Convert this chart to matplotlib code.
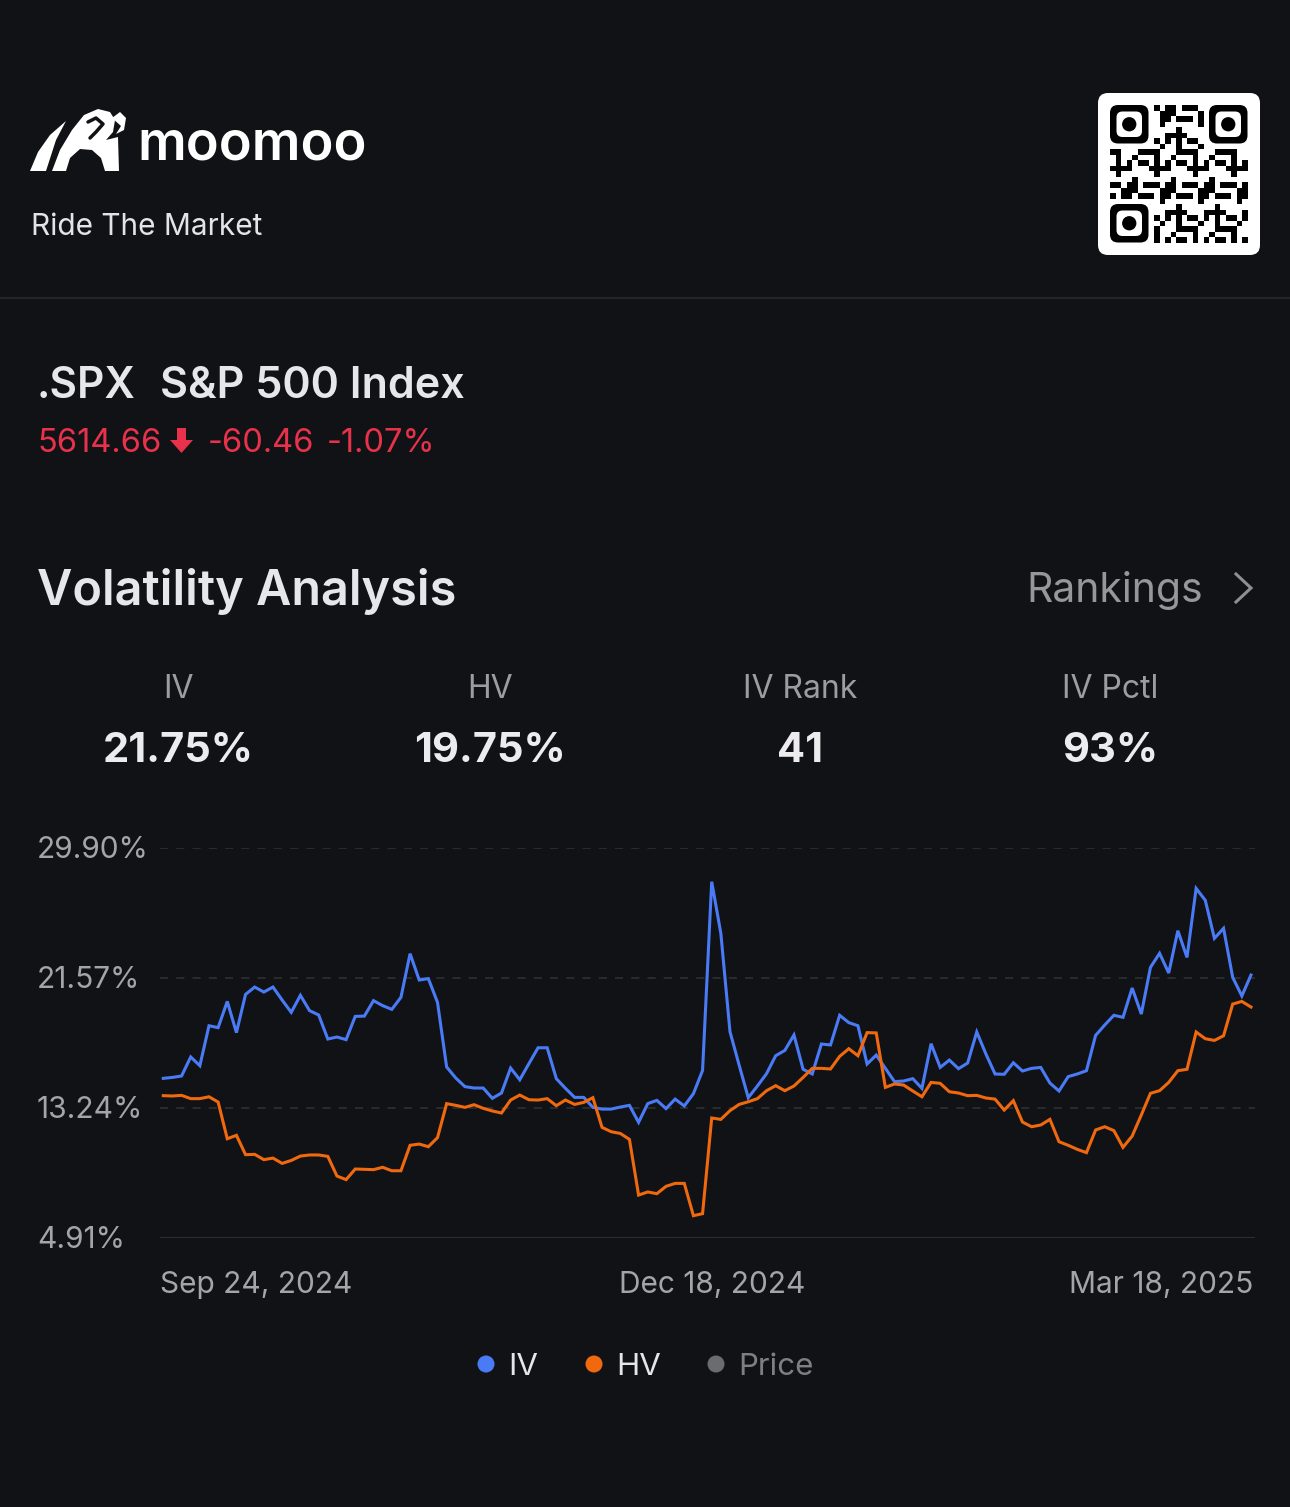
import matplotlib
matplotlib.use("Agg")
import matplotlib.pyplot as plt
from matplotlib.patches import FancyBboxPatch, Polygon, Circle, Rectangle
from matplotlib import transforms


BG = "#111215"
IV_COLOR = "#4a7bf7"
HV_COLOR = "#f0690f"
GRID = "#2c2d31"
LABEL_GRAY = "#a4a5a9"

plt.rcParams["font.family"] = ["Inter", "DejaVu Sans"]

# Sep 24, 2024 .. Mar 18, 2025, one value per trading day (%)
iv = [15.14, 15.20, 15.29, 16.51, 15.95, 18.51, 18.39, 20.07, 18.07, 20.52,
      20.99, 20.67, 20.99, 20.16, 19.37, 20.46, 19.48, 19.20, 17.66, 17.79,
      17.62, 19.11, 19.13, 20.12, 19.80, 19.56, 20.33, 23.13, 21.44, 21.53,
      20.01, 15.87, 15.16, 14.61, 14.52, 14.52, 13.86, 14.20, 15.80, 15.05,
      16.08, 17.10, 17.10, 15.12, 14.50, 13.92, 13.92, 13.28, 13.17, 13.17,
      13.30, 13.41, 12.32, 13.52, 13.73, 13.20, 13.81, 13.37, 14.16, 15.65,
      27.74, 24.43, 18.13, 15.99, 13.90, 14.65, 15.44, 16.59, 16.93, 17.92,
      15.72, 15.42, 17.34, 17.28, 19.18, 18.71, 18.51, 16.06, 16.63, 15.78,
      14.93, 14.97, 15.12, 14.50, 17.36, 15.84, 16.31, 15.76, 16.12, 18.11,
      16.70, 15.42, 15.40, 16.14, 15.61, 15.78, 15.84, 14.84, 14.33, 15.25,
      15.42, 15.63, 17.89, 18.56, 19.18, 19.05, 20.93, 19.26, 22.25, 23.15,
      21.89, 24.60, 22.89, 27.31, 26.55, 24.11, 24.75, 21.61, 20.42, 21.76]

hv = [14.03, 14.01, 14.05, 13.84, 13.84, 13.96, 13.62, 11.27, 11.49, 10.25,
      10.27, 9.93, 10.03, 9.69, 9.88, 10.16, 10.23, 10.23, 10.14, 8.88,
      8.65, 9.33, 9.31, 9.29, 9.44, 9.22, 9.22, 10.85, 10.93, 10.76,
      11.34, 13.52, 13.41, 13.28, 13.45, 13.22, 13.05, 12.92, 13.75, 14.07,
      13.77, 13.75, 13.84, 13.39, 13.75, 13.47, 13.60, 13.90, 12.00, 11.72,
      11.61, 11.23, 7.66, 7.86, 7.75, 8.22, 8.41, 8.41, 6.34, 6.47,
      12.60, 12.51, 13.07, 13.47, 13.64, 13.84, 14.35, 14.67, 14.35, 14.65,
      15.20, 15.78, 15.78, 15.74, 16.55, 17.04, 16.59, 18.07, 18.05, 14.56,
      14.78, 14.71, 14.33, 13.96, 14.88, 14.82, 14.28, 14.20, 14.03, 14.05,
      13.88, 13.81, 13.11, 13.71, 12.34, 12.04, 12.15, 12.51, 11.08, 10.85,
      10.59, 10.38, 11.83, 12.04, 11.79, 10.72, 11.44, 12.79, 14.18, 14.35,
      14.88, 15.63, 15.72, 18.11, 17.68, 17.57, 17.87, 19.90, 20.07, 19.71]

y_ticks = [29.90, 21.57, 13.24, 4.91]
x_ticks = [0, 60, 119]
x_labels = ["Sep 24, 2024", "Dec 18, 2024", "Mar 18, 2025"]

stat_names = ["IV", "HV", "IV Rank", "IV Pctl"]
stat_values = ["21.75%", "19.75%", "41", "93%"]
stat_x = [178, 490, 800, 1110]

W, H = 1290, 1507
fig = plt.figure(figsize=(W / 100, H / 100), dpi=100, facecolor=BG)

# background layer in pixel coordinates
bg = fig.add_axes([0, 0, 1, 1])
bg.set_xlim(0, W)
bg.set_ylim(H, 0)
bg.axis("off")
bg.set_facecolor(BG)

# --- header: logo ---
wing = [(30, 171), (38, 152), (50, 135), (66, 121), (56, 140), (46, 171)]
body = [(52, 171), (60, 150), (72, 130), (84, 115), (98, 109), (110, 112),
        (115, 120), (113, 132), (106, 140), (118, 137), (119, 171), (105, 171),
        (101, 158), (92, 150), (80, 149), (70, 158), (66, 171)]
horn = [(112, 118), (120, 112), (126, 118), (124, 130), (116, 134), (121, 126)]
for pts in (wing, body, horn):
    bg.add_patch(Polygon(pts, closed=True, color="white", lw=0))
bg.plot([88, 96, 103, 96, 90], [122, 118, 124, 132, 138], color=BG, lw=2.5,
        solid_capstyle="round")
bg.text(137, 160, "moomoo", color="white", fontsize=39, fontweight="semibold",
        va="baseline", ha="left")
bg.text(31, 235, "Ride The Market", color="#e4e4e6", fontsize=21.5,
        va="baseline", ha="left")

# --- QR code block ---
bg.add_patch(FancyBboxPatch((1104, 99), 150, 150, boxstyle="round,pad=6,rounding_size=10",
                            fc="white", ec="none"))
m = 5.5
ox, oy = 1110, 105
finders = [(0, 0), (18, 0), (0, 18)]
def in_finder(i, j):
    for fi, fj in finders:
        if fi - 1 <= i <= fi + 7 and fj - 1 <= j <= fj + 7:
            return True
    return False
for i in range(25):
    for j in range(25):
        if in_finder(i, j):
            continue
        if (i * i + 3 * j + i * j + j * j // 2) % 7 < 3:
            bg.add_patch(Rectangle((ox + i * m, oy + j * m), m, m, fc="black", ec="none"))
for fi, fj in finders:
    x0, y0 = ox + fi * m, oy + fj * m
    bg.add_patch(FancyBboxPatch((x0 + 2, y0 + 2), 7 * m - 4, 7 * m - 4,
                                boxstyle="round,pad=2,rounding_size=8", fc="black", ec="none"))
    bg.add_patch(FancyBboxPatch((x0 + m + 1, y0 + m + 1), 5 * m - 2, 5 * m - 2,
                                boxstyle="round,pad=0,rounding_size=6", fc="white", ec="none"))
    bg.add_patch(Circle((x0 + 3.5 * m, y0 + 3.5 * m), 1.3 * m, fc="black", ec="none"))

bg.plot([0, W], [298, 298], color="#24252a", lw=1.5)

# --- quote ---
bg.text(37, 398, ".SPX", color="#e6e7e9", fontsize=30.5, fontweight="semibold",
        va="baseline", ha="left")
bg.text(160, 398, "S&P 500 Index", color="#e6e7e9", fontsize=31, fontweight="semibold",
        va="baseline", ha="left")
RED = "#e8324b"
bg.text(37, 452, "5614.66", color=RED, fontsize=23.5, va="baseline", ha="left")
bg.add_patch(Polygon([(177, 428), (186, 428), (186, 440), (193, 440), (181.5, 453),
                      (170, 440), (177, 440)], closed=True, color=RED, lw=0))
bg.text(208, 452, "-60.46", color=RED, fontsize=23.5, va="baseline", ha="left")
bg.text(327, 452, "-1.07%", color=RED, fontsize=23.5, va="baseline", ha="left")

# --- section title ---
bg.text(37, 605, "Volatility Analysis", color="#e6e7e9", fontsize=35, fontweight="semibold",
        va="baseline", ha="left")
bg.text(1203, 602, "Rankings", color="#96979b", fontsize=29.5, va="baseline", ha="right")
bg.plot([1236, 1251, 1236], [574, 588, 602], color="#8e8f93", lw=2.2,
        solid_joinstyle="miter")

for name, val, x in zip(stat_names, stat_values, stat_x):
    bg.text(x, 698, name, color="#9c9da1", fontsize=23, va="baseline", ha="center")
    bg.text(x, 762, val, color="#ececee", fontsize=30, fontweight="bold",
            va="baseline", ha="center")

# --- chart ---
ax = fig.add_axes([160 / W, 1 - 1238 / H, 1095 / W, 390 / H])
ax.set_facecolor("none")
x = list(range(len(iv)))
ax.plot(x, iv, color=IV_COLOR, lw=2.2, solid_joinstyle="miter", zorder=3)
ax.plot(x, hv, color=HV_COLOR, lw=2.2, solid_joinstyle="miter", zorder=3)
ax.set_xlim(-0.36, 119.44)
ax.set_ylim(y_ticks[-1], y_ticks[0])
for v in y_ticks[:-1]:
    ax.axhline(v, color=GRID, lw=1.3, dashes=(4.5, 4.5), zorder=1)
ax.axhline(y_ticks[-1], color=GRID, lw=1.5, zorder=1)
for s in ax.spines.values():
    s.set_visible(False)
ax.set_xticks([])
ax.set_yticks([])

ylab_tr = transforms.offset_copy(
    transforms.blended_transform_factory(fig.transFigure, ax.transData), fig=fig, y=-10, units="dots")
for v in y_ticks:
    ax.text(37 / W, v, f"{v:.2f}%", transform=ylab_tr, color=LABEL_GRAY, fontsize=21.5,
            va="baseline", ha="left", clip_on=False)

xlab_tr = transforms.blended_transform_factory(ax.transData, fig.transFigure)
for xv, lab, ha in zip(x_ticks, x_labels, ["left", "center", "right"]):
    xx = -0.36 if ha == "left" else (119.2 if ha == "right" else xv)
    ax.text(xx, 1 - 1293 / H, lab, transform=xlab_tr, color=LABEL_GRAY, fontsize=21.5,
            va="baseline", ha=ha, clip_on=False)

# --- legend ---
legend_items = [("IV", IV_COLOR, "#e6e6e8", 486), ("HV", HV_COLOR, "#e6e6e8", 594),
                ("Price", "#6b6c71", "#7e7f84", 716)]
for lab, dot, tc, lx in legend_items:
    bg.add_patch(Circle((lx, 1364), 8.5, fc=dot, ec="none"))
    bg.text(lx + 22, 1375, lab, color=tc, fontsize=22.5, va="baseline", ha="left")

fig.savefig("out.png", dpi=100, facecolor=BG)
